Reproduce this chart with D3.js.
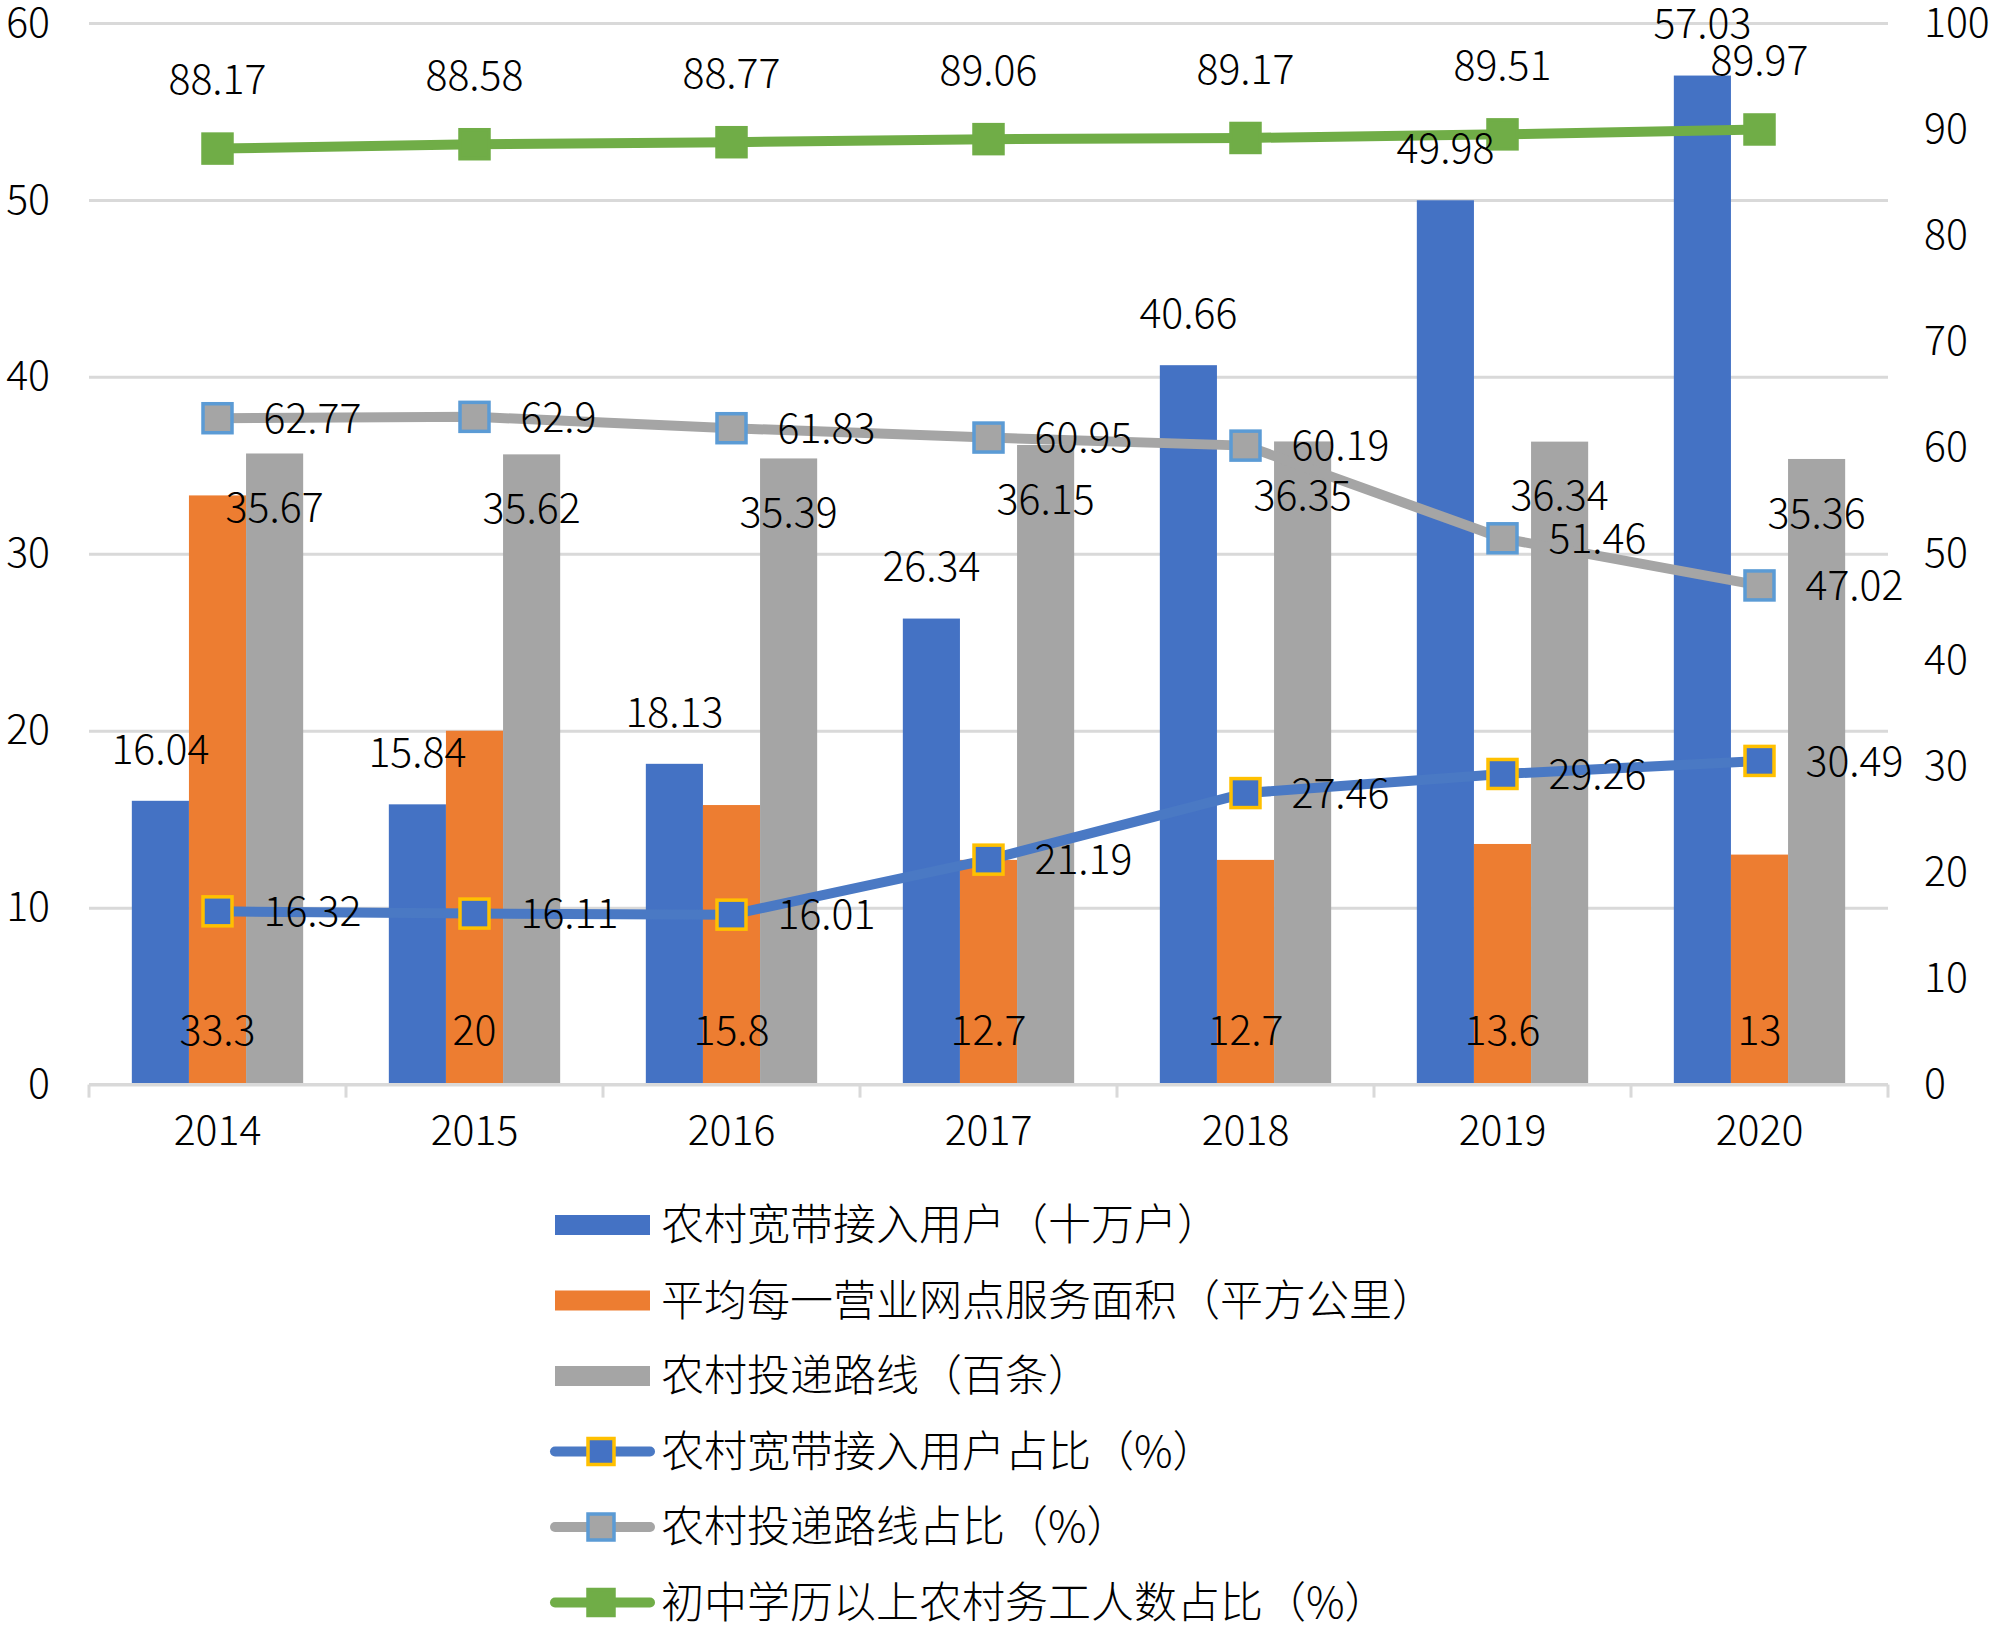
<!DOCTYPE html>
<html>
<head>
<meta charset="utf-8">
<script src="https://cdn.jsdelivr.net/npm/d3@7"></script>
<style>
  body { margin: 0; background: #fff; }
  text { font-family: "Noto Sans CJK SC", "Noto Sans", sans-serif; font-weight: 300; fill: #000; }
</style>
</head>
<body>
<div id="viz"></div>
<script>
const years = ['2014', '2015', '2016', '2017', '2018', '2019', '2020'];

// bars, left axis
const broadband = [16.04, 15.84, 18.13, 26.34, 40.66, 49.98, 57.03];
const serviceArea = [33.3, 20, 15.8, 12.7, 12.7, 13.6, 13];
const deliveryRoutes = [35.67, 35.62, 35.39, 36.15, 36.35, 36.34, 35.36];

// lines, right axis (%)
const broadbandShare = [16.32, 16.11, 16.01, 21.19, 27.46, 29.26, 30.49];
const routesShare = [62.77, 62.9, 61.83, 60.95, 60.19, 51.46, 47.02];
const workersShare = [88.17, 88.58, 88.77, 89.06, 89.17, 89.51, 89.97];

const leftTicks = [0, 10, 20, 30, 40, 50, 60];
const rightTicks = [0, 10, 20, 30, 40, 50, 60, 70, 80, 90, 100];

const legendNames = [
  '农村宽带接入用户（十万户）',
  '平均每一营业网点服务面积（平方公里）',
  '农村投递路线（百条）',
  '农村宽带接入用户占比（%）',
  '农村投递路线占比（%）',
  '初中学历以上农村务工人数占比（%）'
];

const w = 2000;
const h = 1632;
const plotL = 89, plotR = 1888, plotT = 23, plotB = 1084.6;

const svg = d3.select('#viz').
append('svg').
attr('width', w).
attr('height', h);

const x = d3.scaleBand().domain(years).range([plotL, plotR]);
const xSub = d3.scaleBand().domain([0, 1, 2]).range([0, x.bandwidth()]).paddingOuter(0.75);
const yL = d3.scaleLinear().domain([0, 60]).range([plotB, plotT]);
const yR = d3.scaleLinear().domain([0, 100]).range([plotB, plotT]);
const cx = d => x(d) + x.bandwidth() / 2;

//grid + left axis
const gridAxis = d3.axisLeft(yL).tickValues(leftTicks).tickSize(-(plotR - plotL)).tickFormat('');
svg.append('g').
attr('transform', 'translate(' + plotL + ',0)').
call(gridAxis).
call(g => g.select('.domain').remove()).
call(g => g.selectAll('.tick line').attr('stroke', '#d9d9d9').attr('stroke-width', 3));

svg.append('g').
attr('transform', 'translate(50,0)').
call(d3.axisLeft(yL).tickValues(leftTicks).tickSize(0).tickPadding(0)).
call(g => g.select('.domain').remove()).
call(g => g.selectAll('text').style('font-size', '41px').attr('fill', '#000'));

svg.append('g').
attr('transform', 'translate(1924,0)').
call(d3.axisRight(yR).tickValues(rightTicks).tickSize(0).tickPadding(0)).
call(g => g.select('.domain').remove()).
call(g => g.selectAll('text').style('font-size', '41px').attr('fill', '#000'));

//bars
const barSeries = [
  { values: broadband, color: '#4472C4' },
  { values: serviceArea, color: '#ED7D31' },
  { values: deliveryRoutes, color: '#A5A5A5' }
];

barSeries.forEach(function (s, k) {
  svg.append('g').
  selectAll('rect').
  data(s.values).
  enter().
  append('rect').
  attr('x', (d, i) => x(years[i]) + xSub(k)).
  attr('width', xSub.bandwidth()).
  attr('y', d => yL(d)).
  attr('height', d => plotB - yL(d)).
  attr('fill', s.color);
});

//x axis
svg.append('line').
attr('x1', plotL).attr('x2', plotR).
attr('y1', plotB).attr('y2', plotB).
attr('stroke', '#d9d9d9').attr('stroke-width', 3);

svg.append('g').
selectAll('line').
data(years.map(d => x(d)).concat([plotR])).
enter().
append('line').
attr('x1', d => d).attr('x2', d => d).
attr('y1', plotB).attr('y2', plotB + 13).
attr('stroke', '#d9d9d9').attr('stroke-width', 3);

svg.append('g').
attr('transform', 'translate(0,' + plotB + ')').
call(d3.axisBottom(x).tickSize(0).tickPadding(31)).
call(g => g.select('.domain').remove()).
call(g => g.selectAll('text').style('font-size', '41px').attr('fill', '#000'));

//lines
const lineSeries = [
  { values: broadbandShare, color: '#4A79C4', fill: '#4472C4', stroke: '#FFC000' },
  { values: routesShare, color: '#A5A5A5', fill: '#A5A5A5', stroke: '#5B9BD5' },
  { values: workersShare, color: '#70AD47', fill: '#70AD47', stroke: '#70AD47' }
];

const line = d3.line().
x((d, i) => cx(years[i])).
y(d => yR(d));

lineSeries.forEach(function (s) {
  svg.append('path').
  datum(s.values).
  attr('d', line).
  attr('fill', 'none').
  attr('stroke', s.color).
  attr('stroke-width', 10).
  attr('stroke-linejoin', 'round');

  svg.append('g').
  selectAll('rect').
  data(s.values).
  enter().
  append('rect').
  attr('x', (d, i) => cx(years[i]) - 14.5).
  attr('y', d => yR(d) - 14.5).
  attr('width', 29).
  attr('height', 29).
  attr('fill', s.fill).
  attr('stroke', s.stroke).
  attr('stroke-width', 3.5);
});

//data labels
function labels(values, fx, fy, anchor) {
  svg.append('g').
  selectAll('text').
  data(values).
  enter().
  append('text').
  attr('x', (d, i) => fx(d, i)).
  attr('y', (d, i) => fy(d, i)).
  attr('dy', '0.36em').
  attr('text-anchor', anchor).
  style('font-size', '41px').
  text(d => d);
}

labels(broadband, (d, i) => x(years[i]) + xSub(0) + xSub.bandwidth() / 2, d => yL(d) - 52, 'middle');
labels(serviceArea, (d, i) => x(years[i]) + xSub(1) + xSub.bandwidth() / 2, d => plotB - 54, 'middle');
labels(deliveryRoutes, (d, i) => x(years[i]) + xSub(2) + xSub.bandwidth() / 2, d => yL(d) + 54, 'middle');
labels(broadbandShare, (d, i) => cx(years[i]) + 46, d => yR(d), 'start');
labels(routesShare, (d, i) => cx(years[i]) + 46, d => yR(d), 'start');
labels(workersShare, (d, i) => cx(years[i]), d => yR(d) - 69, 'middle');

//legend
const legend = svg.append('g');
const rowY = i => 1225 + i * 75.5;

legendNames.forEach(function (name, i) {
  const g = legend.append('g').attr('transform', 'translate(0,' + rowY(i) + ')');
  if (i < 3) {
    g.append('rect').
    attr('x', 555).attr('y', -10).
    attr('width', 95).attr('height', 20).
    attr('fill', barSeries[i].color);
  } else {
    const s = lineSeries[i - 3];
    g.append('line').
    attr('x1', 555).attr('x2', 650).
    attr('y1', 0).attr('y2', 0).
    attr('stroke', s.color).
    attr('stroke-width', 10).
    attr('stroke-linecap', 'round');
    g.append('rect').
    attr('x', 588).attr('y', -13).
    attr('width', 26).attr('height', 26).
    attr('fill', s.fill).
    attr('stroke', s.stroke).
    attr('stroke-width', 3.5);
  }
  g.append('text').
  attr('x', 661).
  attr('dy', '0.36em').
  style('font-size', '43px').
  text(name);
});
</script>
</body>
</html>
